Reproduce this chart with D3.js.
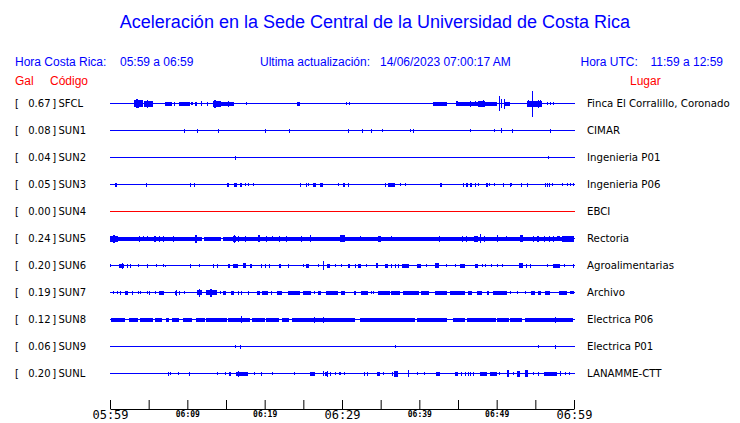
<!DOCTYPE html>
<html><head><meta charset="utf-8">
<script src="https://cdn.jsdelivr.net/npm/d3@7"></script>
<style>body{margin:0;background:#fff}svg{display:block}</style>
</head><body><svg id="c" width="740" height="423"></svg>
<script>
// ---------- data ----------
const titleText = "Aceleración en la Sede Central de la Universidad de Costa Rica";
const codes  = ["SFCL","SUN1","SUN2","SUN3","SUN4","SUN5","SUN6","SUN7","SUN8","SUN9","SUNL"];
const gal    = [0.67, 0.08, 0.04, 0.05, 0.00, 0.24, 0.20, 0.19, 0.12, 0.06, 0.20];
const places = ["Finca El Corralillo, Coronado","CIMAR","Ingenieria P01","Ingenieria P06","EBCI",
                "Rectoria","Agroalimentarias","Archivo","Electrica P06","Electrica P01","LANAMME-CTT"];
const noData = ["SUN4"];
const tickMinutes = [0,5,10,15,20,25,30,35,40,45,50,55,60];
const tickLabels  = ["05:59","","06:09","","06:19","","06:29","","06:39","","06:49","","06:59"];
const majorLabels = ["05:59","06:29","06:59"];

// events per station: [start minute, end minute, amplitude]
const evSFCL = [[3.1,4.2,3],[3.3,3.5,4],[3.6,3.75,3.5],[4.4,5.6,2.7],[4.8,4.95,3.5],[7.1,8.0,1.3],[8.3,8.3,1.3],
  [8.9,10.3,1.5],[10.5,10.8,1],[11.0,11.3,1.5],[11.8,11.8,2],[12.5,12.5,1.5],[13.3,14.35,2.5],[13.5,13.7,3.5],
  [14.35,16.0,1.5],[15.2,15.2,2.5],[17.6,17.6,1],[24.2,24.6,1.3],[30.5,30.5,1],[30.95,30.95,1],[41.8,43.6,1.3],
  [44.7,45.0,2],[45.0,50.0,1.5],[46.6,46.6,2.3],[47.2,47.2,2],[47.6,48.5,2.3],[48.2,48.2,3],[50.3,50.3,7],
  [50.55,50.55,4],[50.9,50.9,4.3],[51.1,51.7,1.5],[53.9,55.8,2.3],[54.0,54.0,3],[54.6,54.6,12.3],[55.3,55.3,3.5],
  [55.6,55.6,3],[56.5,56.5,1],[56.9,56.9,1],[57.3,57.3,1]];
const evSUN1 = [[9.6,9.6,1.5],[11.3,11.3,1.5],[14.0,14.0,1.5],[20.1,20.1,1.5],[23.2,23.2,1.5],[30.8,30.8,1.5],
  [32.6,32.6,1.5],[33.75,33.9,1.3],[35.2,35.2,1],[38.8,38.8,1],[39.2,39.2,1.5],[46.5,46.5,1],[49.7,49.7,1],
  [50.6,50.6,2],[52.0,52.0,1.5],[56.9,56.9,1.5]];
const evSUN2 = [[16.2,16.2,1.5],[56.7,56.7,1]];
const evSUN3 = [[0.65,0.9,1.5],[4.6,4.6,1.3],[10.4,10.4,1.3],[10.8,10.8,1.3],[15.1,15.4,1.5],[16.0,16.4,1.7],
  [16.8,17.0,1.5],[17.4,17.4,1],[17.8,17.8,1],[18.5,18.5,1],[24.6,24.6,1.3],[25.3,25.3,1.3],[25.6,25.6,1],
  [26.25,26.6,1.5],[27.15,27.55,1.7],[29.5,29.5,1],[30.1,30.4,1.5],[30.8,30.8,1.3],[35.6,35.6,1.3],[36.0,36.9,1.5],
  [37.5,37.5,1],[38.1,38.1,1],[42.7,43.0,1.5],[45.6,45.6,1.3],[46.0,46.3,1.5],[46.5,46.7,1.5],[47.2,47.2,1.3],
  [47.6,47.6,1],[48.6,48.8,1.3],[49.0,49.0,1],[49.6,49.6,1],[50.8,50.9,1.3],[51.7,51.7,1.3],[51.9,51.9,1],
  [53.1,53.1,1.3],[53.9,53.9,1.3],[56.2,56.2,1.3],[56.5,56.5,1.3],[56.8,56.8,1.3],[57.1,57.1,1],[58.4,58.4,1],
  [59.1,59.1,1],[59.5,59.5,1],[59.9,59.9,1]];
const evSUN4 = [];
const evSUN5 = [[0,11.9,1.7],[12.2,14.4,1.5],[14.6,60,1.7],[0,1.0,2.7],[0.4,0.7,3.3],[3.8,3.8,2.3],[4.3,4.3,2],
  [4.8,4.8,2],[5.7,6.0,2.7],[6.4,6.4,2.3],[6.9,6.9,2.3],[8.2,8.2,2.3],[11.0,11.2,3.3],[15.9,16.3,2.7],[16.0,16.1,3.3],
  [16.5,16.5,2.7],[17.5,17.5,2.3],[19.1,19.3,3],[20.2,20.2,2.3],[20.9,20.9,2],[21.9,21.9,2.7],[22.8,22.8,2.7],
  [24.7,24.7,2.3],[25.8,25.8,3],[29.8,30.4,3],[32.3,32.3,2],[34.6,35.0,2.7],[36.3,36.3,2],[42.6,42.6,2.7],
  [45.5,45.5,2.3],[46.0,46.0,2.3],[47.1,47.6,2.7],[47.8,47.8,4],[48.3,48.3,2.7],[50.1,50.1,3],[51.2,51.2,2],
  [53.0,53.4,3],[54.7,54.7,2.7],[55.2,55.4,2.7],[56.1,56.1,2.3],[56.8,56.8,2.3],[57.3,57.3,2.3],[57.8,58.2,2],
  [58.5,60,2.3]];
const evSUN6 = [[0,0,1],[1.2,1.85,1.7],[1.55,1.55,2.7],[2.15,2.15,1.3],[2.6,2.6,1.3],[3.6,3.6,1],[4.8,4.8,1.3],
  [5.9,5.9,1],[6.9,6.9,1],[7.1,7.1,0.7],[10.4,10.4,1.3],[11.5,11.5,1],[13.3,13.3,1.5],[13.9,13.9,1.3],[15.3,15.6,1.7],
  [15.9,16.5,1.7],[17.2,17.6,2],[18.1,18.4,1.5],[19.5,19.5,1.3],[20.1,20.1,1.3],[20.5,20.5,1.3],[21.8,22.0,1.7],
  [23.0,23.0,1.3],[25.0,25.0,1],[25.3,25.7,1.7],[26.9,26.9,1],[27.5,27.5,4],[28.0,28.45,1.3],[29.1,29.1,1],
  [29.9,29.9,1],[30.8,31.0,1.3],[31.7,31.7,1.3],[32.1,32.5,1.3],[33.1,33.1,1],[34.4,34.6,2],[35.6,36.0,1.7],
  [36.3,36.3,1.3],[36.9,36.9,1.3],[37.3,37.3,1.3],[37.7,38.6,1.7],[39.7,40.2,1.5],[40.9,40.9,1],[42.0,42.5,2],
  [43.4,43.4,1],[44.6,44.6,1],[45.3,46.0,1.5],[47.2,47.6,1.7],[48.1,48.1,1],[48.5,48.5,1],[49.3,49.3,1],
  [50.0,50.0,1],[50.7,50.7,1],[52.9,53.4,2],[53.8,53.8,1.3],[54.3,54.3,1.3],[56.5,56.5,1],[57.3,58.2,1.7],
  [58.7,58.7,1],[59.9,59.9,1.3]];
const evSUN7 = [[0.35,0.35,1],[0.85,0.85,1],[1.3,1.3,1.3],[1.95,2.3,1.3],[2.85,3.0,1.7],[3.6,3.6,1],[3.9,3.9,1],
  [4.75,4.75,1],[5.0,5.1,1.5],[5.85,5.85,1],[6.3,6.9,1.5],[8.4,8.7,1.7],[8.55,8.55,2.3],[8.95,8.95,1.3],[9.6,9.6,1],
  [11.2,11.9,2],[11.45,11.6,3.5],[12.4,13.8,1.8],[12.9,13.2,3.7],[14.25,14.25,1],[14.55,14.9,1.3],[15.7,16.1,1.7],
  [16.6,16.6,1.3],[17.0,17.0,1.3],[17.8,17.8,1.3],[19.0,19.35,1.7],[19.6,20.4,1.7],[20.8,20.8,1.3],[21.6,22.3,1.7],
  [23.0,24.5,1.7],[24.9,25.9,1.5],[26.4,26.4,1],[26.95,27.4,1.7],[27.9,29.5,1.7],[29.9,30.4,1.3],[31.5,31.7,1.3],
  [32.4,33.3,1.7],[33.7,33.7,1],[34.0,34.0,1],[34.6,36.2,1.7],[36.4,37.5,1.7],[37.9,40.0,1.7],[40.2,41.2,1.5],
  [42.0,43.6,1.7],[44.0,46.0,1.5],[46.3,46.8,1.3],[47.4,48.1,1.5],[48.7,49.0,1.3],[49.5,51.3,1.5],[51.7,51.7,1],
  [52.6,52.6,1],[53.6,53.6,1],[54.4,54.95,1.7],[55.4,55.8,1.3],[56.2,56.9,1.5],[58.05,59.05,1.7],[59.5,60,1]];
const evSUN8 = [[0.1,1.85,1.7],[2.4,3.6,1.5],[3.9,5.6,1.7],[5.85,6.8,1.7],[7.2,7.6,1.5],[8.0,8.95,1.7],[9.5,10.7,1.7],
  [11.1,12.2,1.7],[12.4,15.1,1.7],[15.2,18.0,1.7],[16.9,16.9,3],[18.3,19.95,1.7],[20.2,21.9,1.7],[22.3,23.2,1.7],
  [23.5,31.6,1.7],[26.4,26.4,2.7],[27.5,27.5,2.3],[32.3,39.4,1.7],[39.7,43.6,1.7],[44.4,45.9,1.7],[46.1,49.8,1.7],
  [50.0,51.5,1.7],[51.7,53.2,1.7],[53.7,59.9,1.7],[57.5,57.5,2.7]];
const evSUN9 = [[16.2,16.2,1],[16.85,17.0,1.7],[36.8,36.8,1],[55.4,55.4,1],[57.5,57.5,1.3]];
const evSUNL = [[7.45,7.45,1.3],[7.8,7.8,1],[8.75,8.75,1],[10.25,10.25,1.3],[13.9,13.9,1],[14.9,14.9,1],
  [15.4,15.65,1.3],[16.3,17.8,1.7],[16.6,16.6,2.3],[18.65,18.65,1],[19.5,19.5,1.3],[20.9,20.9,1],[23.8,23.8,1],
  [25.8,26.4,1.7],[27.5,27.5,2],[27.85,28.15,1.3],[28.0,28.0,2.3],[28.5,28.5,1.3],[29.1,29.1,1],[29.65,29.85,1],
  [30.2,30.2,1],[32.8,32.8,1.3],[33.2,33.2,1.3],[34.5,34.9,1.3],[35.35,35.35,1],[36.5,36.5,1.3],[36.75,37.3,2.3],
  [38.5,38.5,3],[39.65,39.65,1],[40.6,40.6,1],[42.15,42.7,1.7],[44.6,45.0,1.5],[45.4,45.4,1.3],[45.9,45.9,1.3],
  [46.3,46.3,1.3],[46.6,46.6,1.3],[46.9,46.9,1.3],[47.8,48.7,1.7],[49.1,50.0,1.3],[50.3,50.3,1],[51.3,51.5,3],
  [52.1,52.1,1],[52.6,53.0,2.3],[53.65,54.1,3],[54.7,54.7,1],[55.3,55.3,1.3],[56.1,57.8,1.5],[58.2,58.2,2],
  [58.8,58.8,1],[59.3,59.3,1]];
const events = [evSFCL,evSUN1,evSUN2,evSUN3,evSUN4,evSUN5,evSUN6,evSUN7,evSUN8,evSUN9,evSUNL];

// ---------- drawing ----------
const svg = d3.select("#c");
const BLUE = "#0000ff", RED = "#ff0000";
const sans = "'Liberation Sans', Arial, sans-serif";

const x = d3.scaleLinear().domain([0, 60]).range([110, 574]);
const y = d3.scalePoint().domain(codes).range([103.5, 373.5]);
const amp = d3.scaleLinear().domain([0, 1]).range([0, 1]);

// title & header
svg.append("text").attr("x", 375).attr("y", 28).attr("text-anchor", "middle")
  .attr("font-family", sans).attr("font-size", 18).attr("fill", BLUE).text(titleText);

const header = [
  {x: 15, t: "Hora Costa Rica:"}, {x: 120, t: "05:59 a 06:59"},
  {x: 260, t: "Ultima actualización:"}, {x: 380, t: "14/06/2023 07:00:17 AM"},
  {x: 580.5, t: "Hora UTC:"}, {x: 650.5, t: "11:59 a 12:59"}
];
svg.append("g").selectAll("text").data(header).join("text")
  .attr("x", d => d.x).attr("y", 65.5).attr("font-family", sans).attr("font-size", 12)
  .attr("fill", BLUE).text(d => d.t);

const colHead = [{x: 15, t: "Gal"}, {x: 50, t: "Código"}, {x: 630, t: "Lugar"}];
svg.append("g").selectAll("text").data(colHead).join("text")
  .attr("x", d => d.x).attr("y", 85).attr("font-family", sans).attr("font-size", 12)
  .attr("fill", RED).text(d => d.t);

// rows
const rows = svg.append("g").selectAll("g").data(codes).join("g")
  .attr("transform", d => `translate(0,${y(d)})`);

rows.append("rect").attr("x", x(0)).attr("y", -0.5).attr("width", x(60) - x(0) + 1).attr("height", 1)
  .attr("fill", d => noData.includes(d) ? RED : BLUE).attr("shape-rendering", "crispEdges");

rows.each(function(code, i) {
  d3.select(this).selectAll("rect.ev").data(events[i]).join("rect").attr("class", "ev")
    .attr("x", d => Math.round(x(d[0])))
    .attr("width", d => Math.max(1, Math.round(x(d[1]) - x(d[0]))))
    .attr("y", d => -Math.round(amp(d[2]) * 2) / 2 - 0.5)
    .attr("height", d => Math.round(amp(d[2]) * 2) + 1)
    .attr("fill", BLUE).attr("shape-rendering", "crispEdges");
});

const lf = "'DejaVu Sans', sans-serif";
rows.append("text").attr("x", 15).attr("y", 3.5).attr("font-family", lf).attr("font-size", 10).text("[");
rows.append("text").attr("x", 50.5).attr("y", 3.5).attr("text-anchor", "end").attr("font-family", lf)
  .attr("font-size", 10).text((d, i) => gal[i].toFixed(2));
rows.append("text").attr("x", 52.3).attr("y", 3.5).attr("font-family", lf).attr("font-size", 10).text("]");
rows.append("text").attr("x", 58.5).attr("y", 3.5).attr("font-family", lf).attr("font-size", 10).text(d => d);
rows.append("text").attr("x", 587).attr("y", 3.5).attr("font-family", lf).attr("font-size", 10.2)
  .text((d, i) => places[i]);

// time axis
const axis = d3.axisBottom(x).tickValues(tickMinutes).tickSize(-9).tickSizeOuter(0).tickPadding(2)
  .tickFormat((d, i) => tickLabels[i]);
const ag = svg.append("g").attr("transform", "translate(0,409)").call(axis);
ag.select(".domain").attr("stroke", "#000");
ag.selectAll(".tick line").attr("stroke", "#000");
ag.selectAll(".tick text").attr("fill", "#000").attr("font-family", "'DejaVu Sans Mono', monospace")
  .each(function() {
    const t = d3.select(this), big = majorLabels.includes(t.text());
    t.attr("font-size", big ? 12 : 8).attr("font-weight", big ? "normal" : "bold")
     .attr("y", big ? 1.5 : 2.5);
  });
</script></body></html>
